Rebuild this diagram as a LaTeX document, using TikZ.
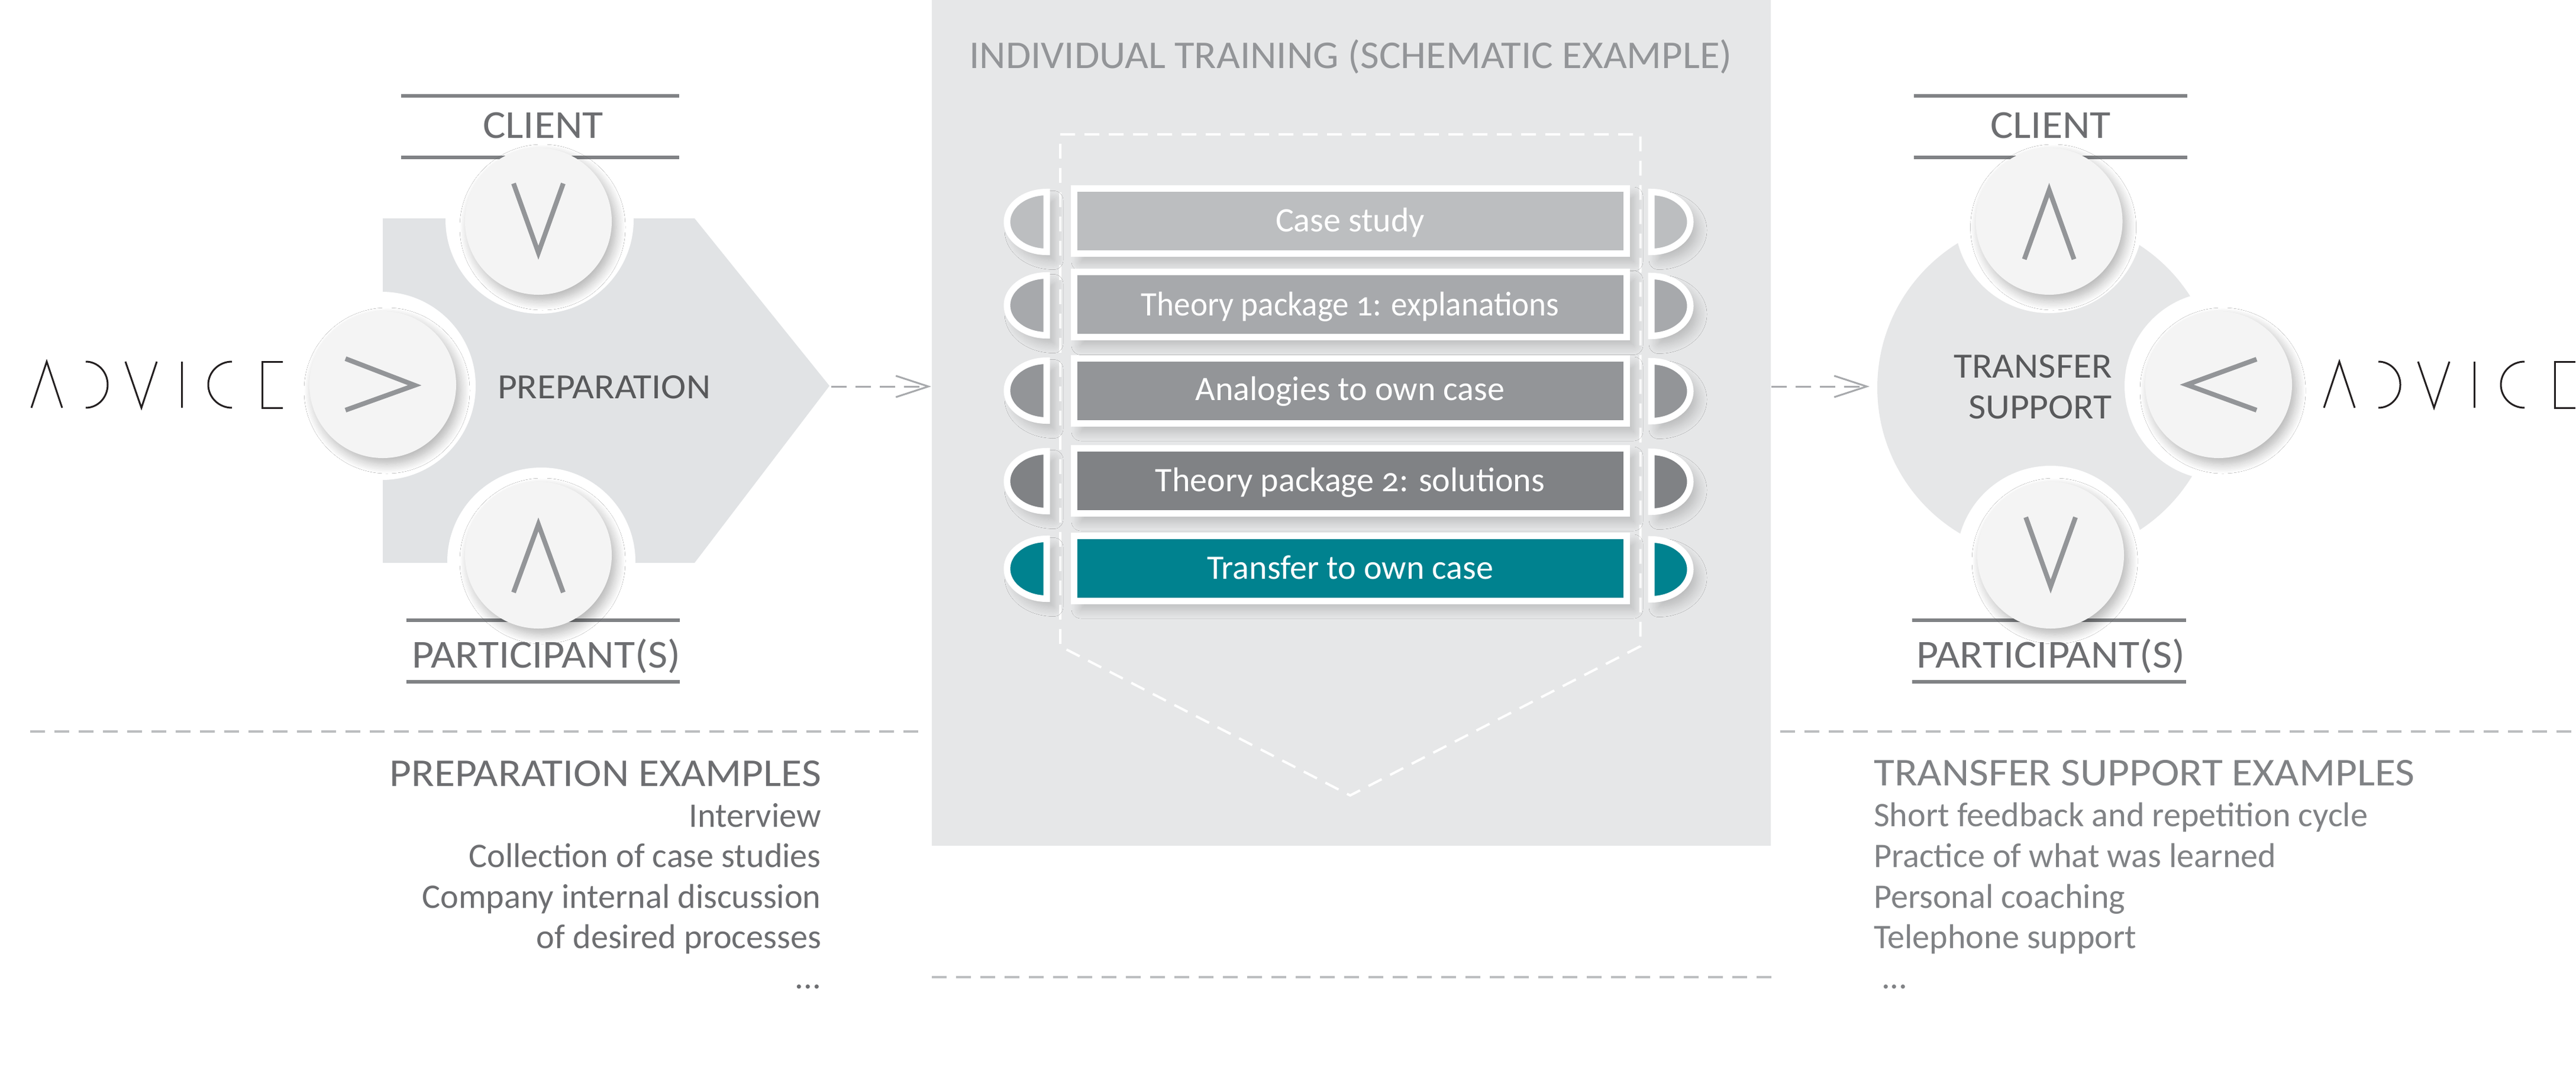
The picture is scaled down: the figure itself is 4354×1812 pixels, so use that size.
\documentclass[tikz,border=0pt]{standalone}
\usepackage{fontspec}
\setmainfont{Carlito}[Numbers=OldStyle]
\newfontfamily\capsA{Carlito}[FakeStretch=1.075]
\newfontfamily\capsB{Carlito}[FakeStretch=1.06]
\newfontfamily\capsT{Carlito}[FakeStretch=1.035]
\newfontfamily\rowtwo{Carlito}[FakeStretch=0.95,Numbers=OldStyle]
\usetikzlibrary{arrows.meta,calc,shadows.blur}
\definecolor{panel}{HTML}{E6E7E8}
\definecolor{prep}{HTML}{E1E3E5}
\definecolor{disc}{HTML}{F4F4F4}
\definecolor{chevron}{HTML}{939598}
\definecolor{rule}{HTML}{808285}
\definecolor{dashgray}{HTML}{BCBEC0}
\definecolor{arrowgray}{HTML}{A7A9AC}
\definecolor{titlegray}{HTML}{939598}
\definecolor{labelgray}{HTML}{6D6E71}
\definecolor{rightgray}{HTML}{808285}
\definecolor{darktext}{HTML}{58595B}
\definecolor{logoblack}{HTML}{231F20}
\definecolor{rowa}{HTML}{BCBEC0}
\definecolor{rowb}{HTML}{A7A9AC}
\definecolor{rowc}{HTML}{939598}
\definecolor{rowd}{HTML}{808285}
\definecolor{rowe}{HTML}{00828F}
\tikzset{
 x=1pt,y=1pt,
 softround/.style={blur shadow={shadow xshift=7pt,shadow yshift=-10pt,shadow blur radius=16pt,shadow blur steps=14,shadow opacity=30}},
 softbox/.style={blur shadow={shadow xshift=12pt,shadow yshift=-14pt,shadow blur radius=16pt,shadow blur steps=14,shadow opacity=20}},
 discnode/.style={circle,fill=disc,minimum size=248pt,inner sep=0pt,softround},
 halonode/.style={circle,fill=white,minimum size=318pt,inner sep=0pt},
 chev/.style={draw=chevron,line width=8pt,miter limit=10},
 barline/.style={draw=rule,line width=6pt},
 sepline/.style={draw=dashgray,line width=4pt,dash pattern=on 25pt off 16pt},
 flowarrow/.style={draw=arrowgray,line width=3pt,dash pattern=on 26pt off 15pt,-{Straight Barb[length=55pt,width=36pt,line width=3pt]}},
 logo/.style={draw=logoblack,line width=3pt},
 bigl/.style={font=\capsA\fontsize{67}{67}\selectfont,text=labelgray,anchor=base,inner sep=0pt},
 midl/.style={font=\capsB\fontsize{60}{60}\selectfont,text=darktext,anchor=base,inner sep=0pt},
 exhead/.style={font=\capsA\fontsize{66.5}{66.5}\selectfont,inner sep=0pt},
 exitem/.style={font=\fontsize{58.2}{58.2}\selectfont,inner sep=0pt},
 rowbox/.style={draw=white,line width=11pt,minimum width=934pt,minimum height=110pt,inner sep=0pt,text=white,font=\fontsize{58}{58}\selectfont,text height=37pt,text depth=0pt,softbox},
 semi/.style={draw=white,line width=11pt,miter limit=2,softbox},
}
\newcommand{\advicelogo}[1]{%
 \begin{scope}[xshift=#1pt]
  \draw[logo] (53,-689) -- (79,-611) -- (105,-689);
  \draw[logo] (145,-611) arc[start angle=90,end angle=-90,x radius=37,y radius=39];
  \draw[logo] (212,-611) -- (239,-689) -- (265,-611);
  \draw[logo] (307,-611) -- (307,-689);
  \draw[logo] (392,-611) arc[start angle=90,end angle=270,x radius=40,y radius=39];
  \draw[logo] (478,-611) -- (443,-611) -- (443,-689) -- (478,-689);
 \end{scope}}
\newcommand{\leftsemi}[2]{\path[semi,fill=#2] (1769,#1+50.5) arc[start angle=90,end angle=270,x radius=67,y radius=50.5] -- cycle;}
\newcommand{\rightsemi}[2]{\path[semi,fill=#2] (2791,#1+50.5) arc[start angle=90,end angle=-90,x radius=66,y radius=50.5] -- cycle;}
\begin{document}
\begin{tikzpicture}
\useasboundingbox (0,0) rectangle (4354,-1812);
% panel
\fill[panel] (1575,0) rectangle (2993,-1429);
\node[font=\capsT\fontsize{66.5}{66.5}\selectfont,text=titlegray,anchor=base,inner sep=0pt] (title) at (2283,-115) {INDIVIDUAL TRAINING (SCHEMATIC EXAMPLE)};
% separators
\coordinate (sl1) at (51,-1235.5); \coordinate (sl2) at (1553,-1235.5);
\coordinate (sr1) at (3009,-1235.5); \coordinate (sr2) at (4354,-1235.5);
\coordinate (sm1) at (1575,-1651); \coordinate (sm2) at (2997,-1651);
\draw[sepline] (sl1) -- (sl2);
\draw[sepline] (sr1) -- (sr2);
\draw[sepline] (sm1) -- (sm2);
% left: preparation
\fill[prep] (647,-369) -- (1174,-369) -- (1402,-652) -- (1174,-951) -- (647,-951) -- cycle;
\node[halonode] (lh1) at (912,-371) {};
\node[halonode] (lh2) at (645,-652) {};
\node[halonode] (lh3) at (915,-949) {};
\coordinate (lb1a) at (678,-162); \coordinate (lb1b) at (1148,-162);
\coordinate (lb2a) at (678,-265.5); \coordinate (lb2b) at (1148,-265.5);
\coordinate (lb3a) at (687,-1048); \coordinate (lb3b) at (1149,-1048);
\coordinate (lb4a) at (687,-1152); \coordinate (lb4b) at (1149,-1152);
\draw[barline] (lb1a) -- (lb1b); \draw[barline] (lb2a) -- (lb2b);
\draw[barline] (lb3a) -- (lb3b); \draw[barline] (lb4a) -- (lb4b);
\node[discnode] (ld1) at (910,-374) {};
\node[discnode] (ld2) at (647,-650) {};
\node[discnode] (ld3) at (910,-938) {};
\draw[chev] ([shift={(-42,64)}]ld1.center) -- ([shift={(0,-53)}]ld1.center) -- ([shift={(42,64)}]ld1.center);
\draw[chev] ([shift={(-63,44)}]ld2.center) -- ([shift={(54,-1)}]ld2.center) -- ([shift={(-63,-43)}]ld2.center);
\draw[chev] ([shift={(-42,-63)}]ld3.center) -- ([shift={(0,52)}]ld3.center) -- ([shift={(42,-63)}]ld3.center);
\node[bigl] (lclient) at (918,-233) {CLIENT};
\node[bigl] (lpart) at (923,-1128) {PARTICIPANT(S)};
\node[midl] (lprep) at (1021,-673) {PREPARATION};
\advicelogo{0}
% arrows
\coordinate (a1s) at (1405,-653); \coordinate (a1e) at (1574,-653);
\coordinate (a2s) at (2994,-653); \coordinate (a2e) at (3160,-653);
\draw[flowarrow] (a1s) -- (a1e);
\draw[flowarrow] (a2s) -- (a2e);
% training
\draw[draw=white,line width=4pt,dash pattern=on 25pt off 16pt] (1792,-227) -- (2772.5,-227) -- (2772.5,-1092) -- (2282,-1344) -- (1792,-1092) -- cycle;
\leftsemi{-375}{rowa}\rightsemi{-375}{rowa}
\leftsemi{-516}{rowb}\rightsemi{-517}{rowb}
\leftsemi{-660}{rowc}\rightsemi{-661}{rowc}
\leftsemi{-813}{rowd}\rightsemi{-814}{rowd}
\leftsemi{-961}{rowe}\rightsemi{-962}{rowe}
\node[rowbox,fill=rowa] (r1) at (2282,-373) {Case study};
\node[rowbox,fill=rowb,font=\rowtwo\fontsize{58}{58}\selectfont] (r2) at (2282,-514.5) {Theory package 1: explanations};
\node[rowbox,fill=rowc,text height=32pt] (r3) at (2282,-660) {Analogies to own case};
\node[rowbox,fill=rowd,text height=36pt] (r4) at (2282,-812) {Theory package 2: solutions};
\node[rowbox,fill=rowe] (r5) at (2282,-960) {Transfer to own case};
% right: transfer
\fill[panel] (3460,-655) circle[radius=287];
\node[halonode] (rh1) at (3463,-370) {};
\node[halonode] (rh2) at (3750,-652) {};
\node[halonode] (rh3) at (3466,-946) {};
\coordinate (rb1a) at (3235,-162); \coordinate (rb1b) at (3697,-162);
\coordinate (rb2a) at (3235,-265.5); \coordinate (rb2b) at (3697,-265.5);
\coordinate (rb3a) at (3232,-1048); \coordinate (rb3b) at (3695,-1048);
\coordinate (rb4a) at (3232,-1152); \coordinate (rb4b) at (3695,-1152);
\draw[barline] (rb1a) -- (rb1b); \draw[barline] (rb2a) -- (rb2b);
\draw[barline] (rb3a) -- (rb3b); \draw[barline] (rb4a) -- (rb4b);
\node[discnode] (rd1) at (3463.5,-374) {};
\node[discnode] (rd2) at (3750,-650) {};
\node[discnode] (rd3) at (3466,-938) {};
\draw[chev] ([shift={(-42,-64)}]rd1.center) -- ([shift={(0,53)}]rd1.center) -- ([shift={(42,-64)}]rd1.center);
\draw[chev] ([shift={(64,43)}]rd2.center) -- ([shift={(-54,0)}]rd2.center) -- ([shift={(64,-43)}]rd2.center);
\draw[chev] ([shift={(-42,64)}]rd3.center) -- ([shift={(0,-53)}]rd3.center) -- ([shift={(42,64)}]rd3.center);
\node[bigl] (rclient) at (3466,-233) {CLIENT};
\node[bigl] (rpart) at (3466,-1128) {PARTICIPANT(S)};
\node[midl,anchor=base east] (rtr1) at (3570,-638) {TRANSFER};
\node[midl,anchor=base east] (rtr2) at (3570,-707) {SUPPORT};
\advicelogo{3875}
% examples
\begin{scope}[text=labelgray]
\node[exhead,anchor=base east] (pe0) at (1388,-1328) {PREPARATION EXAMPLES};
\node[exitem,anchor=base east] (pe1) at (1388,-1397) {Interview};
\node[exitem,anchor=base east] (pe2) at (1388,-1465) {Collection of case studies};
\node[exitem,anchor=base east] (pe3) at (1388,-1534) {Company internal discussion};
\node[exitem,anchor=base east] (pe4) at (1388,-1602) {of desired processes};
\node[exitem,anchor=base east] (pe5) at (1388,-1670) {...};
\end{scope}
\begin{scope}[text=rightgray]
\node[exhead,anchor=base west] (te0) at (3167,-1327) {TRANSFER SUPPORT EXAMPLES};
\node[exitem,anchor=base west] (te1) at (3167,-1396) {Short feedback and repetition cycle};
\node[exitem,anchor=base west] (te2) at (3167,-1465) {Practice of what was learned};
\node[exitem,anchor=base west] (te3) at (3167,-1534) {Personal coaching};
\node[exitem,anchor=base west] (te4) at (3167,-1602) {Telephone support};
\node[exitem,anchor=base west] (te5) at (3180,-1670) {...};
\end{scope}
\end{tikzpicture}
\end{document}
